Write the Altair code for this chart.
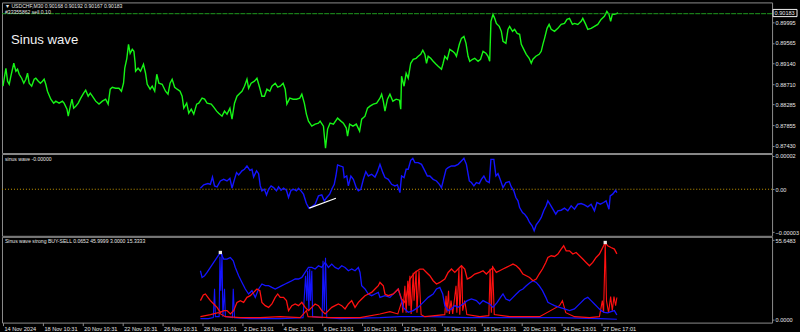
import altair as alt
import pandas as pd

# ---------------- data ----------------
# x = M30 bar index counted from the first bar on screen
price_bar = [0,7,11,15,19,26,31,35,39,45,
             50,55,59,63,69,75,79,85,90,95,
             99,103,107,115,122,127,135,143,147,154,
             157,162,166,170,175,181,187,194,199,205,
             210,215,223,231,239,247,253,258,263,271,
             279,285,290,293,298,302,306,311,315,318,
             319,325,331,338,343,347,354,359,365,370,
             375,383,391,397,402,407,413,419,426,431,
             435,442,447,453,459,466,471,479,485,491,
             501,507,514,519,527,533,539,546,551,557,
             563,570,575,581,587,591,597,605,611,618,
             623,629,635,642,647,655,661,667,674,679,
             683,690,698,706,714,719,725,730,735,743,
             751,759,763,771,776,781,787,795,805,813,
             819,826,829,834,842,850,858,863,871,877,
             883,891,899,907,911,915,919,925,931,938,
             946,954,957,959,965,970,975,981,987,994,
             999,1005,1010,1015,1019,1023,1029,1035,1042,1047,
             1055,1059,1063,1069,1075,1082,1087,1091,1098,1103,
             1109,1114,1119,1123,1130,1135,1143,1149,1155,1162,
             1167,1171,1174,1179,1183,1187,1194,1199,1203,1210,
             1215,1219,1226,1231,1237,1243,1247,1253,1259,1266,
             1271,1275,1282,1290,1295,1299,1303,1309,1314,1319,
             1327,1335,1343,1351,1357,1363,1370,1375,1383,1391,
             1395,1402,1407,1415,1423,1431,1439,1447,1453,1458,
             1462,1466,1471,1480]
price_close = [0.88665,0.89037,0.88769,0.88706,0.88872,0.89141,0.88975,0.89017,0.88913,0.88831,
               0.88727,0.88810,0.88934,0.88727,0.88665,0.88810,0.88831,0.88769,0.88727,0.88769,
               0.88810,0.88706,0.88561,0.88396,0.88313,0.88355,0.88313,0.88355,0.88313,0.88189,
               0.88044,0.88251,0.88396,0.88210,0.88251,0.88313,0.88417,0.88520,0.88582,0.88458,
               0.88520,0.88458,0.88355,0.88293,0.88355,0.88396,0.88293,0.88603,0.88644,0.88623,
               0.88623,0.88561,0.88727,0.89038,0.89244,0.89534,0.89348,0.89430,0.89389,0.89141,
               0.88975,0.89038,0.88975,0.89120,0.88934,0.88706,0.88603,0.88665,0.88561,0.88913,
               0.88727,0.88706,0.88561,0.88499,0.88727,0.88810,0.88644,0.88603,0.88561,0.88458,
               0.88210,0.88313,0.88106,0.88189,0.88086,0.88293,0.88313,0.88417,0.88396,0.88313,
               0.88293,0.88230,0.88148,0.88106,0.88044,0.88148,0.88086,0.88210,0.87982,0.88313,
               0.88458,0.88520,0.88561,0.88665,0.88810,0.88623,0.88727,0.88769,0.88831,0.88623,
               0.88458,0.88458,0.88603,0.88561,0.88665,0.88727,0.88644,0.88665,0.88727,0.88603,
               0.88293,0.88417,0.88396,0.88396,0.88417,0.88499,0.88313,0.88086,0.87941,0.87837,
               0.87879,0.87900,0.87941,0.87837,0.87382,0.87776,0.87900,0.87879,0.88003,0.87941,
               0.87900,0.87796,0.87631,0.87879,0.87837,0.87879,0.87734,0.87982,0.88044,0.88210,
               0.88251,0.88293,0.88313,0.88417,0.88499,0.88355,0.88148,0.88396,0.88499,0.88355,
               0.88396,0.88375,0.88189,0.88872,0.88665,0.88934,0.88831,0.89141,0.89224,0.89244,
               0.89286,0.89327,0.89410,0.89327,0.89141,0.89286,0.89244,0.89182,0.89120,0.89079,
               0.89017,0.89141,0.89286,0.89224,0.89430,0.89389,0.89348,0.89286,0.89534,0.89658,
               0.89699,0.89555,0.89286,0.89182,0.89224,0.89244,0.89182,0.89224,0.89389,0.89348,
               0.89286,0.89182,0.90010,0.90154,0.90072,0.89968,0.89906,0.89803,0.89596,0.89555,
               0.89844,0.89906,0.89803,0.89844,0.89761,0.89741,0.89534,0.89430,0.89327,0.89244,
               0.89141,0.89224,0.89286,0.89327,0.89389,0.89534,0.89658,0.89865,0.89947,0.89844,
               0.89803,0.89865,0.89947,0.89968,0.90051,0.90072,0.89947,0.89968,0.89947,0.90010,
               0.90072,0.89947,0.89844,0.89865,0.89906,0.89947,0.90051,0.90113,0.90216,0.90154,
               0.90010,0.90154,0.90154,0.90183]
price_ticks = [0.89995, 0.89565, 0.89140, 0.88710, 0.88285, 0.87855, 0.87430]
order_price = [0.90169]
last_price = [0.90183]

sinus_bar = [475,483,493,499,504,509,515,523,531,539,
             546,551,557,562,567,575,581,587,594,599,
             603,610,615,619,623,629,634,639,645,651,
             658,663,669,675,682,687,693,699,706,711,
             717,723,730,736,743,751,759,767,773,779,
             786,791,797,801,805,811,818,821,827,831,
             837,843,850,855,861,867,873,879,887,895,
             901,907,914,919,927,935,943,949,955,959,
             965,970,975,981,986,991,999,1007,1015,1021,
             1027,1035,1043,1050,1055,1061,1066,1071,1079,1087,
             1095,1103,1109,1115,1122,1127,1133,1139,1146,1151,
             1157,1163,1170,1174,1181,1186,1191,1197,1203,1210,
             1218,1223,1229,1234,1239,1243,1250,1255,1261,1267,
             1273,1278,1283,1290,1295,1301,1307,1311,1317,1323,
             1330,1335,1343,1351,1359,1367,1375,1383,1391,1399,
             1407,1415,1423,1429,1437,1445,1451,1458,1461,1467,
             1474,1477]
# sinus wave value in units of 1e-5
sinus_e5 = [0.07,0.30,0.39,0.34,0.84,0.23,0.16,0.57,0.68,0.57,
            0.75,0.07,0.68,1.14,0.98,1.26,1.37,1.60,1.30,1.37,
            0.84,1.26,1.07,0.23,-0.11,0.00,-0.39,0.00,0.23,0.11,
            -0.11,0.16,-0.07,0.07,-0.07,-0.57,-0.07,0.00,-0.11,0.07,
            -0.11,-0.34,-0.98,-1.30,-1.21,-1.03,-0.46,-0.39,-0.80,-0.57,
            -0.34,0.00,0.34,0.91,1.67,1.60,1.53,0.80,0.91,0.23,
            0.91,0.68,0.11,-0.11,0.00,0.68,1.21,0.91,1.03,0.84,
            1.21,1.71,1.14,0.80,0.68,0.34,0.23,0.30,-0.23,0.91,
            0.80,1.37,1.37,1.99,2.12,1.83,1.83,1.71,1.26,0.91,
            0.91,0.68,0.57,0.34,0.11,0.80,1.37,1.48,1.60,1.60,
            1.71,1.94,2.12,1.71,0.57,0.46,0.23,0.46,0.39,0.68,
            0.91,0.57,0.46,2.05,2.05,0.91,1.07,0.62,0.11,0.46,
            0.53,0.16,-0.11,-0.57,-0.80,-1.26,-1.60,-1.71,-1.94,-2.28,
            -2.51,-2.85,-2.44,-2.17,-1.94,-1.48,-1.14,-0.80,-1.07,-1.37,
            -1.71,-1.48,-1.44,-1.30,-1.48,-1.14,-1.37,-1.03,-0.98,-1.07,
            -1.21,-1.03,-1.48,-0.91,-1.03,-0.91,-0.80,-1.37,-0.46,-0.34,
            -0.07,-0.23]
sinus_ticks_e5 = [2.30, 0.0, -2.95]
trend_bar = [737, 801]
trend_e5 = [-1.30, -0.62]

buy_bar = [475,479,485,491,499,507,515,523,531,539,
           547,554,559,567,575,583,591,599,607,615,
           623,631,639,647,655,663,671,679,687,695,
           703,711,719,727,735,743,751,759,767,775,
           783,791,799,807,815,823,831,839,847,855,
           859,863,871,879,887,895,903,907,919,931,
           943,951,957,963,975,987,999,1011,1023,1035,
           1043,1051,1058,1063,1071,1079,1087,1095,1107,1117,
           1127,1139,1147,1155,1163,1171,1179,1189,1197,1203,
           1210,1219,1227,1235,1243,1251,1259,1267,1275,1283,
           1290,1298,1306,1311,1319,1327,1339,1351,1363,1375,
           1383,1391,1399,1407,1415,1423,1431,1439,1447,1455,
           1463,1471,1477]
buy_val = [34.13,29.44,30.63,32.94,36.45,39.95,43.46,46.96,42.33,42.33,
           43.46,41.14,36.45,30.63,25.93,21.31,17.80,20.12,15.42,21.31,
           24.81,23.62,23.62,22.43,21.31,22.43,23.62,24.81,25.93,27.12,
           28.32,28.32,29.44,32.94,36.45,36.45,35.33,37.64,36.45,39.95,
           36.45,38.83,36.45,35.33,37.64,36.45,34.13,35.33,34.13,36.45,
           32.94,23.62,21.31,17.80,16.61,17.80,18.92,15.42,16.61,15.42,
           18.92,21.31,15.42,8.41,4.91,6.10,8.41,11.92,15.42,17.80,
           21.31,22.43,17.80,9.60,6.10,7.29,9.60,8.41,10.79,13.11,
           14.30,13.11,10.79,13.11,11.92,10.79,8.41,11.92,15.42,17.80,
           14.30,13.11,15.42,17.80,20.12,21.31,23.62,25.51,27.12,25.93,
           23.62,20.12,15.42,11.92,10.79,9.60,8.41,7.29,6.10,7.29,
           9.60,11.92,14.30,15.42,13.11,10.79,8.41,6.10,4.91,4.49,
           5.40,6.10,3.00]

sell_bar = [475,482,487,493,499,507,515,523,531,539,
            547,555,563,571,579,587,595,603,611,618,
            623,631,639,647,655,661,667,675,682,687,
            695,703,711,719,727,735,743,751,759,767,
            775,783,791,799,807,815,823,831,839,847,
            855,863,871,879,887,895,903,907,915,919,
            927,939,951,959,967,979,991,1003,1011,1019,
            1027,1035,1043,1051,1063,1071,1079,1087,1095,1103,
            1111,1117,1125,1135,1147,1155,1163,1171,1179,1187,
            1195,1203,1211,1219,1227,1235,1243,1251,1259,1267,
            1275,1283,1290,1298,1306,1311,1319,1327,1335,1343,
            1349,1355,1363,1371,1379,1387,1395,1403,1411,1419,
            1427,1435,1443,1449,1455,1463,1471,1477]
sell_val = [13.11,17.10,17.80,15.42,13.11,10.79,8.41,4.91,6.10,6.10,
            3.78,6.10,11.92,13.11,11.92,15.42,16.61,18.92,21.31,20.12,
            11.92,9.60,8.41,10.79,15.42,17.80,15.42,15.42,13.11,6.10,
            9.60,10.79,9.60,11.92,8.41,6.10,8.41,10.79,9.60,6.10,
            3.78,6.10,8.41,9.60,10.79,9.60,7.29,10.79,13.11,8.41,
            11.92,14.30,16.61,17.80,18.92,21.31,23.62,25.93,23.62,17.80,
            16.61,17.80,21.31,14.30,11.92,28.32,32.94,35.33,35.33,32.94,
            30.63,27.12,24.81,25.93,28.32,32.94,35.33,32.94,35.33,37.64,
            35.33,28.32,29.44,31.82,32.94,34.13,31.82,34.13,36.45,32.94,
            34.13,35.33,36.45,37.64,38.83,37.64,35.33,31.82,30.63,29.44,
            27.12,28.32,31.82,35.33,39.95,43.46,44.65,44.16,45.84,49.34,
            51.66,48.15,48.15,45.84,46.96,44.65,42.33,39.95,37.64,39.95,
            43.46,45.84,50.46,53.97,51.66,50.46,49.34,45.9999]

buy2_bar = [475,494,506,509,511,520,522,524,527,529,
            533,535,552,554,557,595,667,722,728,731,
            733,736,738,740,743,745,768,770,773,776,
            779,811,907,955,1027,1123,1243,1339,1435,1477]
buy2_val = [0.49,0.49,1.19,21.52,1.89,1.89,43.95,20.12,46.05,1.89,
            21.52,1.89,1.19,21.52,1.19,0.49,0.49,1.19,30.63,13.11,
            34.13,6.10,35.54,13.11,34.13,1.89,1.19,41.14,6.10,43.25,
            1.19,0.49,1.19,1.89,1.89,1.19,1.19,1.19,0.49,0.0652]

sell2_bar = [475,499,518,535,571,619,667,715,730,734,
             787,859,907,931,950,960,962,967,970,974,
             977,979,982,987,989,994,996,1001,1003,1006,
             1015,1039,1063,1066,1068,1072,1074,1078,1082,1090,
             1092,1097,1099,1104,1106,1111,1116,1147,1169,1172,
             1175,1178,1182,1219,1291,1339,1346,1354,1375,1411,
             1435,1442,1445,1449,1452,1457,1462,1466,1470,1474,
             1477]
sell2_val = [1.89,3.29,4.70,1.89,1.19,1.19,1.89,1.19,6.10,1.89,
             1.19,1.19,3.78,5.40,3.78,13.11,4.70,23.62,4.70,27.12,
             9.60,30.63,3.78,32.73,13.11,34.13,4.70,34.13,20.12,3.29,
             1.89,2.59,3.29,16.61,4.70,20.12,3.78,13.11,3.78,23.62,
             4.70,35.54,3.29,37.64,6.10,13.11,3.29,1.89,2.59,35.54,
             4.70,37.64,3.29,1.89,1.89,9.60,13.11,4.70,1.89,1.19,
             1.89,13.11,4.70,53.76,13.11,4.70,15.91,6.10,15.91,9.60,
             15.3333]
signal_bar = [523, 1449]
signal_val = [46.96, 53.97]
signal_ticks = [55.6483, 0.0]

tick_bars = [0, 96, 192, 288, 384, 480, 576, 672, 768, 864, 960, 1056, 1152, 1248, 1344, 1440]
tick_labels = ["14 Nov 2024", "18 Nov 10:31", "20 Nov 10:31", "22 Nov 10:31", "26 Nov 10:31",
               "28 Nov 11:01", "2 Dec 13:01", "4 Dec 13:01", "6 Dec 13:01", "10 Dec 13:01",
               "12 Dec 13:01", "16 Dec 13:01", "18 Dec 13:01", "20 Dec 13:01", "24 Dec 13:01",
               "27 Dec 17:01"]

header1 = ["\u25bc USDCHF,M30  0.90168 0.90192 0.90167 0.90183"]
header2 = ["#33355862 sell 0.10"]
big_title = ["Sinus wave"]
header_sinus = ["sinus wave -0.00000"]
header_signal = ["Sinus wave strong BUY-SELL 0.0652 45.9999 3.0000 15.3333"]

# ---------------- layout / style ----------------
W = 772
H1, H2, H3 = 151, 82, 86
XDOM = [-2.4, 1850.4]
FONT = "Liberation Sans"
TXT = "#e6e6e6"
GRAY = "#8c8c8c"
FS = 5.6

label_js = "[" + ",".join("'%s'" % s for s in tick_labels) + "][round(datum.value/96)]"

def xenc(axis=None):
    return alt.X("bar:Q", scale=alt.Scale(domain=XDOM, nice=False, zero=False), axis=axis)

def yaxis(values, fmt=None, expr=None):
    kw = dict(orient="right", values=values, title=None, grid=False, domain=False,
              tickSize=2, tickColor=GRAY, labelColor=TXT, labelFont=FONT,
              labelFontSize=FS, labelPadding=1, labelFlush=False, labelOverlap=False)
    if fmt:
        kw["format"] = fmt
    if expr:
        kw["labelExpr"] = expr
    return alt.Axis(**kw)

def header(text, y, size=5.1, x=3, color=TXT):
    return alt.Chart(pd.DataFrame({"t": text})).mark_text(
        align="left", baseline="middle", font=FONT, fontSize=size, color=color
    ).encode(x=alt.value(x), y=alt.value(y), text="t:N")

# ---- panel 1: price ----
y1 = alt.Scale(domain=[0.87279, 0.90403], nice=False, zero=False)
ax1 = yaxis(price_ticks, fmt=".5f")
price_df = pd.DataFrame({"bar": price_bar, "price": price_close})
p_line = alt.Chart(price_df).mark_line(color="#16f516", strokeWidth=1.4, clip=True).encode(
    x=xenc(), y=alt.Y("price:Q", scale=y1, axis=ax1))
order = alt.Chart(pd.DataFrame({"price": order_price})).mark_rule(
    color="#1f9a1f", strokeWidth=1, strokeDash=[5, 1]).encode(
    y=alt.Y("price:Q", scale=y1, axis=ax1))
lp_df = pd.DataFrame({"price": last_price, "t": ["%.5f" % v for v in last_price]})
lp_box = alt.Chart(lp_df).mark_point(
    shape="M-1,-0.3L1,-0.3L1,0.3L-1,0.3Z", size=576, filled=True, fill="black",
    stroke="#f0f0f0", strokeWidth=1, opacity=1).encode(
    x=alt.value(W + 13), y=alt.Y("price:Q", scale=y1, axis=ax1))
lp_txt = alt.Chart(lp_df).mark_text(align="left", baseline="middle", font=FONT,
                                    fontSize=FS, color=TXT).encode(
    x=alt.value(W + 2.5), y=alt.Y("price:Q", scale=y1, axis=ax1), text="t:N")
panel1 = alt.layer(
    p_line, order, lp_box, lp_txt,
    header(header1, 4, size=5.1), header(header2, 9.5, size=5.1),
    header(big_title, 37.5, size=13.2, x=9, color="#f2f2f2"),
).properties(width=W, height=H1)

# ---- panel 2: sinus wave ----
y2 = alt.Scale(domain=[-3.199, 2.418], nice=False, zero=False)
ax2 = yaxis(sinus_ticks_e5, expr="datum.value == 0 ? '0.00' : format(datum.value*1e-5, '.5f')")
sin_df = pd.DataFrame({"bar": sinus_bar, "v": sinus_e5})
zero_rule = alt.Chart(pd.DataFrame({"v": [0.0]})).mark_rule(
    color="#c89b00", strokeWidth=1, strokeDash=[1, 2]).encode(
    y=alt.Y("v:Q", scale=y2, axis=ax2))
s_line = alt.Chart(sin_df).mark_line(color="#1414ff", strokeWidth=1.4, clip=True).encode(
    x=xenc(), y=alt.Y("v:Q", scale=y2, axis=ax2))
trend_df = pd.DataFrame({"bar": [trend_bar[0]], "bar2": [trend_bar[1]],
                         "v": [trend_e5[0]], "v2": [trend_e5[1]]})
trend = alt.Chart(trend_df).mark_rule(color="white", strokeWidth=1.2).encode(
    x=xenc(), x2="bar2:Q", y=alt.Y("v:Q", scale=y2, axis=ax2), y2="v2:Q")
panel2 = alt.layer(zero_rule, s_line, trend, header(header_sinus, 4.5)).properties(width=W, height=H2)

# ---- panel 3: strong BUY-SELL ----
y3 = alt.Scale(domain=[-2.31, 57.96], nice=False, zero=False)
ax3 = yaxis(signal_ticks, fmt=".4f")
xax = alt.Axis(values=tick_bars, labelExpr=label_js, labelAlign="left", labelOffset=1,
               labelBaseline="top", tickSize=3, tickColor=GRAY, domain=False, grid=False,
               labelFontSize=FS, labelColor=TXT, labelFont=FONT, labelPadding=0.5,
               title=None, labelFlush=False, labelOverlap=False)

def sig_line(bars, vals, color, width):
    df = pd.DataFrame({"bar": bars, "v": vals})
    return alt.Chart(df).mark_line(color=color, strokeWidth=width, clip=True).encode(
        x=xenc(xax), y=alt.Y("v:Q", scale=y3, axis=ax3))

marks = alt.Chart(pd.DataFrame({"bar": signal_bar, "v": signal_val})).mark_point(
    shape="square", filled=True, color="#e8e8e8", size=11, opacity=1).encode(
    x=xenc(xax), y=alt.Y("v:Q", scale=y3, axis=ax3))
panel3 = alt.layer(
    sig_line(buy2_bar, buy2_val, "#1414ff", 1.1),
    sig_line(sell2_bar, sell2_val, "#ff1010", 1.1),
    sig_line(buy_bar, buy_val, "#1414ff", 1.3),
    sig_line(sell_bar, sell_val, "#ff1010", 1.3),
    marks,
    header(header_signal, 4),
).properties(width=W, height=H3)

chart = alt.vconcat(panel1, panel2, panel3, spacing=1, bounds="flush").configure(
    background="black", padding={"left": 1, "top": 1, "right": 0, "bottom": 0}
).configure_view(stroke=GRAY, strokeWidth=1)

chart.save("out.html", embed_options={"renderer": "svg", "actions": False})
